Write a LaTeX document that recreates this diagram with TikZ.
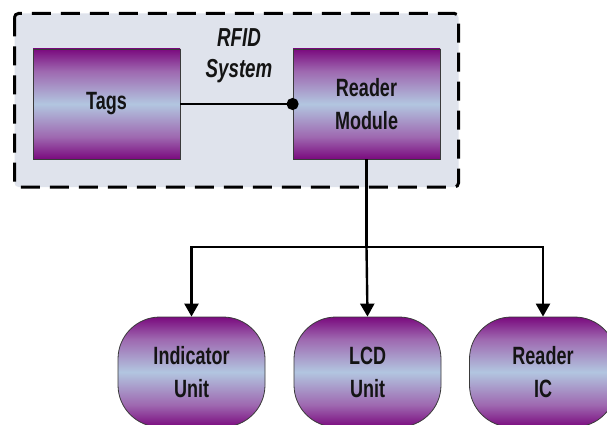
\documentclass[tikz,border=0pt]{standalone}
\usepackage{fontspec}
\usetikzlibrary{arrows.meta,positioning}
\newfontfamily\condfont{Liberation Sans}[FakeStretch=0.72]

\definecolor{pdark}{HTML}{7A0A7E}
\definecolor{plav}{HTML}{9E68B0}
\definecolor{pblue}{HTML}{B2C6E0}
\definecolor{panel}{HTML}{DFE3EC}
\definecolor{edge}{HTML}{3A3A3A}
\definecolor{ink}{HTML}{141414}

% purple / pale blue band shading used by every block
\pgfdeclareverticalshading{blockshade}{100bp}{%
  color(0bp)=(pdark); color(25bp)=(pdark); color(35bp)=(plav);
  color(50bp)=(pblue); color(65bp)=(plav); color(75bp)=(pdark);
  color(100bp)=(pdark)}

\tikzset{
  labeltext/.style={font=\condfont\bfseries\fontsize{25}{33}\selectfont,
    text=ink, align=center},
  block/.style={labeltext, draw=edge, line width=0.8pt, shading=blockshade,
    minimum width=147pt, minimum height=110pt, inner sep=0pt},
  squareblock/.style={block, rectangle},
  roundblock/.style={block, rectangle, rounded corners=42pt},
  link/.style={draw=black, line width=2.4pt},
  arrowlink/.style={link, -{Triangle[length=13pt,width=14pt]}},
  dotlink/.style={link, -{Circle[length=12pt,width=12pt]}, shorten >=-6pt},
  panelbox/.style={draw=black, fill=panel, line width=3pt,
    dash pattern=on 19pt off 10pt, rounded corners=4pt}
}

\begin{document}
\begin{tikzpicture}[x=1pt,y=-1pt]
  \useasboundingbox (0,0) rectangle (607,425);
  \clip (0,0) rectangle (607,425);
  \fill[white] (0,0) rectangle (607,425);

  % dashed system boundary
  \draw[panelbox] (14.5,13.5) rectangle (458.5,187);
  \node[labeltext, font=\condfont\bfseries\itshape\fontsize{26}{31}\selectfont]
    (sys) at (239,56) {RFID\\System};

  % upper blocks
  \node[squareblock] (tags) at (106.5,104) {Tags};
  \node[squareblock] (reader) at (366.5,104) {Reader\\Module};

  % lower blocks
  \node[roundblock] (ind) at (191.5,372) {Indicator\\Unit};
  \node[roundblock] (lcd) at (367.5,372) {LCD\\Unit};
  \node[roundblock] (ric) at (543,372) {Reader\\IC};

  % connectors
  \draw[dotlink] (tags.east) -- (reader.west);
  \coordinate (split) at (reader.south |- 0,247);
  \draw[link] (reader.south) -- (split);
  \draw[arrowlink] (split) -| (ind.north);
  \draw[arrowlink] (split) -- (lcd.north);
  \draw[arrowlink] (split) -| (ric.north);
\end{tikzpicture}
\end{document}
